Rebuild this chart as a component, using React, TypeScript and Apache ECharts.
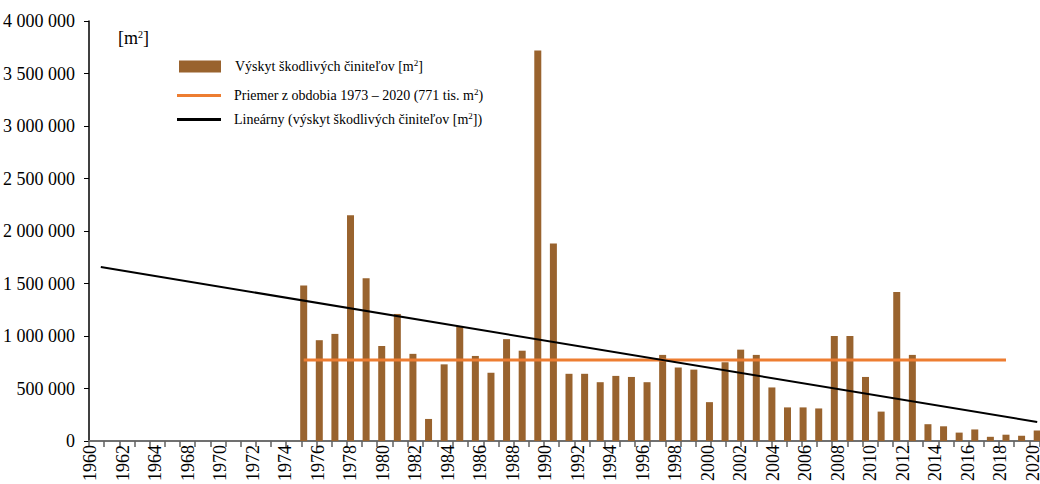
import React, { useEffect, useRef } from "react";
import * as echarts from "echarts";

// Categories of the bar axis (one per year)
const categories = [
  "1960", "1961", "1962", "1963", "1964", "1965", "1966", "1967", "1968", "1969",
  "1970", "1971", "1972", "1973", "1974", "1975", "1976", "1977", "1978", "1979",
  "1980", "1981", "1982", "1983", "1984", "1985", "1986", "1987", "1988", "1989",
  "1990", "1991", "1992", "1993", "1994", "1995", "1996", "1997", "1998", "1999",
  "2000", "2001", "2002", "2003", "2004", "2005", "2006", "2007", "2008", "2009",
  "2010", "2011", "2012", "2013", "2014", "2015", "2016", "2017", "2018", "2019",
  "2020",
];

// Výskyt škodlivých činiteľov [m2] (no data 1960–1972)
const damageValues: (number | null)[] = [
  null, null, null, null, null, null, null, null, null, null,
  null, null, null,
  1480000, 960000, 1020000, 2150000, 1550000, 905000, 1210000,
  830000, 210000, 730000, 1095000, 810000, 650000, 970000, 860000,
  3720000, 1880000, 640000, 640000, 560000, 620000, 610000, 560000,
  820000, 700000, 680000, 370000, 750000, 870000, 820000, 510000,
  320000, 320000, 310000, 1000000, 1000000, 610000, 280000, 1420000,
  820000, 160000, 140000, 80000, 110000, 40000, 60000, 50000, 100000,
];

// Average line (771 tis. m2), drawn over these categories
const averageValue = 771000;
const averageFrom = "1973";
const averageTo = "2018";

// Linear trend line end points
const trendStartYear = "1960";
const trendStartValue = 1657000;
const trendEndYear = "2020";
const trendEndValue = 181000;

// Tick labels shown under the x axis
const xTickLabels = [
  "1960", "1962", "1964", "1968", "1970", "1972", "1974", "1976", "1978", "1980",
  "1982", "1984", "1986", "1988", "1990", "1992", "1994", "1996", "1998", "2000",
  "2002", "2004", "2006", "2008", "2010", "2012", "2014", "2016", "2018", "2020",
];

// Number of minor tick marks on the x axis line
const xTickCount = 62;

const yTicks = { min: 0, max: 4000000, interval: 500000 };

const barName = "Výskyt škodlivých činiteľov [m2]";
const avgName = "Priemer z obdobia 1973 – 2020 (771 tis. m2)";
const trendName = "Lineárny (výskyt škodlivých činiteľov [m2])";

const richNames: Record<string, string> = {
  [barName]: "{t|Výskyt škodlivých činiteľov [m}{sup|2}{t|]}",
  [avgName]: "{t|Priemer z obdobia 1973 – 2020 (771 tis. m}{sup|2}{t|)}",
  [trendName]: "{t|Lineárny (výskyt škodlivých činiteľov [m}{sup|2}{t|])}",
};

const FONT = "'Liberation Serif', 'Times New Roman', serif";
const BROWN = "#99632E";
const ORANGE = "#ED7D31";

const lineIcon = "path://M0,0 M44,12 M0,4.5 L44,4.5 L44,7.5 L0,7.5 Z";

export default function App() {
  const ref = useRef<HTMLDivElement>(null);

  useEffect(() => {
    if (!ref.current) return;
    const chart = echarts.init(ref.current, undefined, { renderer: "svg" });

    const avgData = categories.map((c) =>
      c >= averageFrom && c <= averageTo ? averageValue : null
    );
    const trendData = categories.map((c) =>
      c === trendStartYear ? trendStartValue : c === trendEndYear ? trendEndValue : null
    );

    const legendText = {
      fontSize: 14,
      fontFamily: FONT,
      color: "#000",
      padding: [0, 0, 0, 9],
      rich: {
        t: { fontSize: 14, fontFamily: FONT, color: "#000", lineHeight: 17 },
        sup: { fontSize: 9, fontFamily: FONT, color: "#000", verticalAlign: "top", lineHeight: 11 },
      },
    };
    const legendBase = {
      orient: "vertical",
      padding: 0,
      itemHeight: 12,
      selectedMode: false,
      formatter: (name: string) => richNames[name] ?? name,
      textStyle: legendText,
    };

    const option: any = {
      animation: false,
      grid: [
        { left: 89, top: 21, width: 951, height: 420 },
        { left: 93, top: 21, width: 952, height: 420 },
        { left: 90, top: 21, width: 943, height: 420 },
      ],
      xAxis: [
        {
          gridIndex: 0,
          type: "value",
          min: 0,
          max: xTickCount + 0.7,
          interval: 1,
          axisLine: { show: true, lineStyle: { color: "#707070", width: 2 } },
          axisTick: { show: true, length: 6, lineStyle: { color: "#606060", width: 1.5 } },
          axisLabel: { show: false },
          splitLine: { show: false },
        },
        {
          gridIndex: 1,
          type: "category",
          data: categories,
          show: false,
        },
        {
          gridIndex: 2,
          type: "category",
          data: xTickLabels,
          boundaryGap: false,
          axisLine: { show: false },
          axisTick: { show: false },
          axisLabel: {
            interval: 0,
            rotate: 90,
            margin: 5,
            fontSize: 18,
            fontFamily: FONT,
            color: "#000",
          },
          splitLine: { show: false },
        },
      ],
      yAxis: [
        {
          gridIndex: 0,
          type: "value",
          min: yTicks.min,
          max: yTicks.max,
          interval: yTicks.interval,
          axisLine: { show: true, lineStyle: { color: "#000", width: 1.5 } },
          axisTick: { show: true, length: 5, lineStyle: { color: "#000", width: 1 } },
          axisLabel: {
            margin: 14,
            fontSize: 18,
            fontFamily: FONT,
            color: "#000",
            formatter: (v: number) => String(v).replace(/\B(?=(\d{3})+(?!\d))/g, " "),
          },
          splitLine: { show: false },
        },
        { gridIndex: 1, type: "value", min: yTicks.min, max: yTicks.max, show: false, splitLine: { show: false } },
        { gridIndex: 2, type: "value", min: yTicks.min, max: yTicks.max, show: false, splitLine: { show: false } },
      ],
      legend: [
        {
          ...legendBase,
          left: 179,
          top: 58,
          itemWidth: 42,
          data: [{ name: barName, icon: "rect" }],
        },
        {
          ...legendBase,
          left: 177,
          top: 87,
          itemWidth: 44,
          textStyle: { ...legendText, padding: [0, 0, 0, 8] },
          data: [{ name: avgName, icon: lineIcon, itemStyle: { color: ORANGE, borderWidth: 0 } }],
        },
        {
          ...legendBase,
          left: 177,
          top: 111,
          itemWidth: 44,
          textStyle: { ...legendText, padding: [0, 0, 0, 8] },
          data: [{ name: trendName, icon: lineIcon, itemStyle: { color: "#000", borderWidth: 0 } }],
        },
      ],
      graphic: [
        {
          type: "text",
          left: 118,
          top: 29,
          style: {
            text: "[m{sup|2}]",
            fontSize: 18,
            fontFamily: FONT,
            fill: "#000",
            rich: {
              sup: { fontSize: 10, fontFamily: FONT, fill: "#000", verticalAlign: "top", lineHeight: 12 },
            },
          },
        },
      ],
      series: [
        {
          name: barName,
          type: "bar",
          xAxisIndex: 1,
          yAxisIndex: 1,
          data: damageValues,
          barWidth: 7,
          itemStyle: { color: BROWN },
          z: 3,
        },
        {
          name: avgName,
          type: "line",
          xAxisIndex: 1,
          yAxisIndex: 1,
          data: avgData,
          symbol: "none",
          lineStyle: { color: ORANGE, width: 3 },
          itemStyle: { color: ORANGE },
          z: 4,
        },
        {
          name: trendName,
          type: "line",
          xAxisIndex: 1,
          yAxisIndex: 1,
          data: trendData,
          connectNulls: true,
          symbol: "none",
          lineStyle: { color: "#000", width: 2 },
          itemStyle: { color: "#000" },
          z: 5,
        },
      ],
    };

    chart.setOption(option);
    return () => chart.dispose();
  }, []);

  return (
    <div
      ref={ref}
      style={{ position: "fixed", left: 0, top: 0, width: 1050, height: 484, background: "#fff" }}
    />
  );
}
